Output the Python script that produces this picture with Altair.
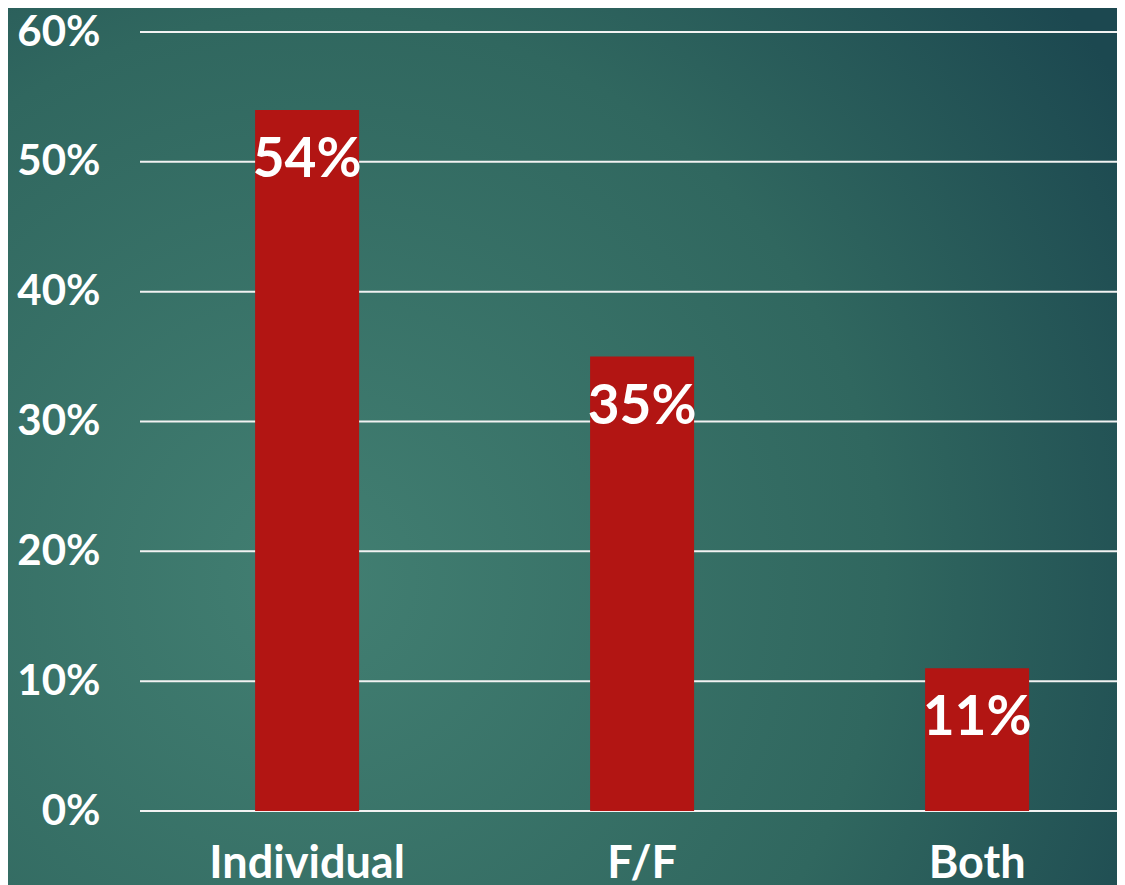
import altair as alt
import pandas as pd

categories = ["Individual", "F/F", "Both"]
shares = [54, 35, 11]
labels = ["54%", "35%", "11%"]
tick_values = [0, 10, 20, 30, 40, 50, 60]

W, H = 977, 779
PAD_L, PAD_T, PAD_R, PAD_B = 132, 24, 0, 74

df = pd.DataFrame({"cat": categories, "share": shares, "label": labels})
grid_df = pd.DataFrame({"v": tick_values})

x_scale = alt.Scale(domain=categories, paddingInner=0.6896, paddingOuter=0.303, align=0.567)
y_scale = alt.Scale(domain=[0, 60], nice=False)

gradient = {
    "gradient": "radial",
    "stops": [
        {"offset": 0, "color": "#427f72"},
        {"offset": 0.6, "color": "#30675f"},
        {"offset": 1, "color": "#1c4850"},
    ],
    "x1": 0.28, "y1": 0.62, "r1": 0,
    "x2": 0.28, "y2": 0.62, "r2": 0.85,
}

font = "Lato"

y_axis = alt.Axis(title=None, values=tick_values, labelExpr="datum.value + '%'",
                  grid=False, ticks=False, tickSize=0, domain=False,
                  labelFont=font, labelFontSize=42, labelFontWeight="bold",
                  labelColor="white", labelPadding=40, zindex=1, labelLimit=300)

x_axis = alt.Axis(title=None, labelAngle=0, ticks=False, tickSize=0, domain=False,
                  labelFont=font, labelFontSize=45, labelFontWeight="bold",
                  labelColor="white", labelPadding=30, zindex=1, labelLimit=400)

bg = alt.Chart(alt.Data(values=[{"a": 1}])).mark_rect(color=gradient).encode(
    x=alt.value(-PAD_L), x2=alt.value(W + PAD_R),
    y=alt.value(-PAD_T), y2=alt.value(H + PAD_B),
)

rules = alt.Chart(grid_df).mark_rule(color="#f2f2f2", strokeWidth=2).encode(
    y=alt.Y("v:Q", scale=y_scale, axis=y_axis)
)

bars = alt.Chart(df).mark_bar(color="#b21513").encode(
    x=alt.X("cat:N", scale=x_scale, sort=categories, axis=x_axis),
    y=alt.Y("share:Q", scale=y_scale, axis=y_axis),
)

text = alt.Chart(df).mark_text(font=font, fontSize=55, fontWeight="bold", color="white",
                               baseline="alphabetic", align="center", dy=67).encode(
    x=alt.X("cat:N", scale=x_scale, sort=categories, axis=x_axis),
    y=alt.Y("share:Q", scale=y_scale, axis=y_axis),
    text="label:N",
)

chart = alt.layer(bg, rules, bars, text).properties(
    width=W, height=H,
    autosize=alt.AutoSizeParams(type="none"),
    padding={"left": PAD_L, "top": PAD_T, "right": PAD_R, "bottom": PAD_B},
    background="#2f6b64",
).configure_view(stroke=None)

chart.save("out.html", embed_options={"renderer": "svg", "actions": False})
